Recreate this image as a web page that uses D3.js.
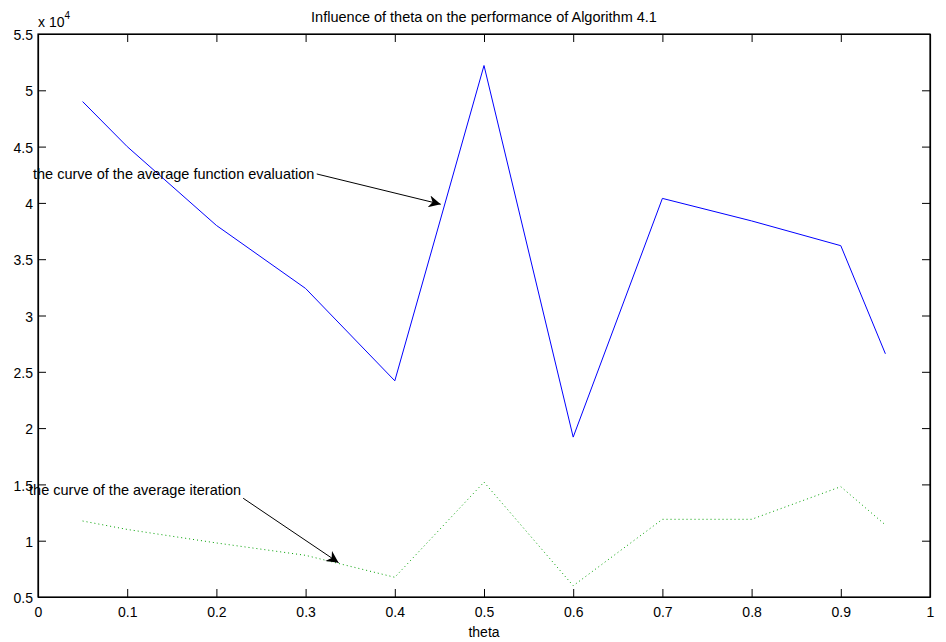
<!DOCTYPE html>
<html><head><meta charset="utf-8">
<script src="https://cdn.jsdelivr.net/npm/d3@7"></script>
<style>body{margin:0;background:#fff}svg{display:block}text{font-family:"Liberation Sans",Arial,sans-serif;fill:#000}</style>
</head><body>
<svg id="c" width="946" height="642"></svg>
<script>
const theta = [0.05,0.1,0.2,0.3,0.4,0.5,0.6,0.7,0.8,0.9,0.95];
const funcEval = [4.90,4.50,3.80,3.24,2.42,5.22,1.92,4.04,3.84,3.62,2.66]; // x 10^4
const iterations = [1.175,1.10,0.98,0.87,0.675,1.52,0.60,1.19,1.19,1.48,1.14]; // x 10^4
const xTicks = [0,0.1,0.2,0.3,0.4,0.5,0.6,0.7,0.8,0.9,1];
const yTicks = [0.5,1,1.5,2,2.5,3,3.5,4,4.5,5,5.5];
const title = "Influence of theta on the performance of Algorithm 4.1";
const xLabel = "theta";
const notes = [
  {text:"the curve of the average function evaluation", tx:-0.0056, ty:4.212, ax0:0.3125, ay0:4.257, ax1:0.4515, ay1:3.988},
  {text:"the curve of the average iteration", tx:-0.010, ty:1.406, ax0:0.230, ay0:1.377, ax1:0.337, ay1:0.805}
];

const svg = d3.select("#c");
const L=38,R=930,T=34,B=597;
const x = d3.scaleLinear().domain([0,1]).range([L,R]);
const y = d3.scaleLinear().domain([0.5,5.5]).range([B,T]);

svg.append("defs").append("marker").attr("id","ah").attr("viewBox","0 0 10 10")
 .attr("refX",10).attr("refY",5).attr("markerWidth",14).attr("markerHeight",12)
 .attr("markerUnits","userSpaceOnUse").attr("orient","auto")
 .append("path").attr("d","M0,0 L10,5 L0,10 L3,5 Z").attr("fill","#000");

// lines
const line = d3.line().x((d,i)=>x(theta[i])).y(d=>y(d));
svg.append("path").datum(funcEval).attr("d",line).attr("fill","none").attr("stroke","#0000ff").attr("stroke-width",1);
svg.append("path").datum(iterations).attr("d",line).attr("fill","none").attr("stroke","#00a000").attr("stroke-width",1).attr("stroke-dasharray","1,3");

// axes box
const fs = 14;
const ax = d3.axisBottom(x).tickValues(xTicks).tickFormat(d3.format("")).tickSizeInner(-8).tickSizeOuter(0).tickPadding(10);
const gx = svg.append("g").attr("transform",`translate(0,${B})`).call(ax);
const ay = d3.axisLeft(y).tickValues(yTicks).tickFormat(d3.format("")).tickSizeInner(-8).tickSizeOuter(0).tickPadding(5);
const gy = svg.append("g").attr("transform",`translate(${L},0)`).call(ay);
const axT = d3.axisTop(x).tickValues(xTicks).tickFormat("").tickSizeInner(-8).tickSizeOuter(0);
const gt = svg.append("g").attr("transform",`translate(0,${T})`).call(axT);
const axR = d3.axisRight(y).tickValues(yTicks).tickFormat("").tickSizeInner(-8).tickSizeOuter(0);
const gr = svg.append("g").attr("transform",`translate(${R},0)`).call(axR);
[gx,gy,gt,gr].forEach(g=>{
  g.selectAll(".domain").attr("stroke","#000").attr("stroke-width",1.2);
  g.selectAll(".tick line").attr("stroke","#000");
  g.selectAll("text").style("font-family","'Liberation Sans',Arial,sans-serif").style("font-size",fs+"px").attr("fill","#000");
});
gy.selectAll("text").attr("dy","0.4em");
svg.append("rect").attr("x",L).attr("y",T).attr("width",R-L).attr("height",B-T).attr("fill","none").attr("stroke","#000").attr("stroke-width",1.2);

// exponent
const ex = svg.append("text").attr("x",L).attr("y",27).style("font-size","14px");
ex.append("tspan").text("x 10");
ex.append("tspan").attr("dy",-8).style("font-size","10px").text("4");

// title and label
svg.append("text").attr("x",x(0.5)).attr("y",22).attr("text-anchor","middle").style("font-size","14.5px").text(title);
svg.append("text").attr("x",x(0.5)).attr("y",637).attr("text-anchor","middle").style("font-size","14px").text(xLabel);

// annotations
notes.forEach(n=>{
  svg.append("text").attr("x",x(n.tx)).attr("y",y(n.ty)).style("font-size","14.5px").text(n.text);
  svg.append("line").attr("x1",x(n.ax0)).attr("y1",y(n.ay0)).attr("x2",x(n.ax1)).attr("y2",y(n.ay1))
    .attr("stroke","#000").attr("stroke-width",1).attr("marker-end","url(#ah)");
});
</script>
</body></html>
